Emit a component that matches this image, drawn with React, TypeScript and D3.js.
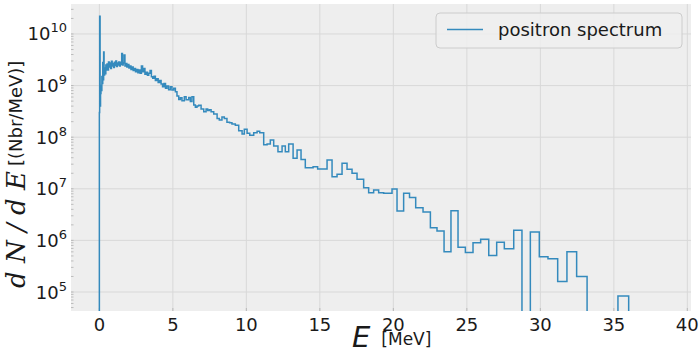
import { useEffect, useRef } from 'react';
import * as d3 from 'd3';

// lower bin edges in MeV (log-ish spaced bins)
const binLow = [
  0.0, 0.02, 0.05, 0.08, 0.11, 0.14, 0.17, 0.2, 0.23, 0.26, 0.29, 0.32, 0.36, 0.4, 0.44, 0.48,
  0.52, 0.57, 0.62, 0.67, 0.72, 0.77, 0.82, 0.87, 0.92, 0.97, 1.02, 1.07, 1.12, 1.17, 1.22, 1.27, 1.32, 1.37, 1.42, 1.47,
  1.52, 1.57, 1.62, 1.68, 1.74, 1.8, 1.87, 1.94, 2.01, 2.08, 2.15, 2.22, 2.3, 2.38, 2.46, 2.54, 2.62, 2.7, 2.78, 2.86, 2.94,
  3.02, 3.1, 3.18, 3.27, 3.36, 3.45, 3.54, 3.63, 3.72, 3.81, 3.9, 4.0, 4.1, 4.2, 4.3, 4.4, 4.5, 4.6, 4.71,
  4.83, 4.94, 5.06, 5.17, 5.28, 5.4, 5.51, 5.62, 5.78, 5.9, 6.08, 6.19, 6.3, 6.42, 6.53, 6.64, 6.76, 6.92, 7.1, 7.26, 7.37, 7.48, 7.6, 7.78, 8.01, 8.16, 8.34, 8.5, 8.68,
  8.86, 9.02, 9.25, 9.48, 9.71, 9.86, 10.05, 10.23, 10.5, 10.73, 10.91, 11.18, 11.41, 11.63, 11.86, 12.15, 12.43, 12.65, 12.88, 13.18, 13.45, 13.72, 14.01, 14.54, 14.85,
  15.49, 15.83, 16.17, 16.51, 16.85, 17.19, 17.53, 17.98, 18.32, 18.66, 19.0, 19.34, 19.91, 20.25,
  20.7, 21.1, 21.52, 22.02, 22.52, 22.97, 23.45, 23.92, 24.4, 24.9, 25.42, 25.94, 26.49, 27.03, 27.55, 28.19, 28.75, 29.32, 29.93, 30.52, 31.18, 31.81, 32.47, 33.18, 35.28,
];
const lastEdge = 36.01;

// dN/dE per bin (Nbr/MeV), 0 = empty bin
const dNdE = [
  3.0e8, 2.2e10, 4.0e8, 7.0e8, 1.0e9, 8.0e8, 1.5e9, 1.1e9, 2.8e9, 1.3e9, 4.5e9, 1.6e9, 2.2e9, 1.7e9, 2.5e9, 2.0e9,
  2.63e9, 2.0e9, 2.88e9, 2.29e9, 2.75e9, 2.14e9, 2.95e9, 2.4e9, 2.69e9, 2.24e9, 2.82e9, 2.45e9, 3.0e9, 2.34e9, 2.75e9, 2.51e9, 2.88e9, 2.4e9, 2.82e9, 2.57e9,
  4.2e9, 2.51e9, 2.75e9, 3.9e9, 2.4e9, 2.69e9, 2.29e9, 2.57e9, 2.19e9, 2.4e9, 2.04e9, 2.29e9, 1.95e9, 2.14e9, 1.86e9, 2.04e9, 1.78e9, 2.0e9, 1.74e9, 2.4e9, 1.86e9,
  2.14e9, 1.66e9, 1.82e9, 1.58e9, 1.74e9, 1.95e9, 1.48e9, 1.38e9, 1.51e9, 1.26e9, 1.35e9, 1.15e9, 1.26e9, 1.07e9, 9.5e8, 1.1e9, 8.9e8, 9.8e8, 8.3e8,
  9.5e8, 8.2e8, 8.85e8, 7.6e8, 6.3e8, 5.4e8, 5.8e8, 5.1e8, 6.1e8, 5.3e8, 5.9e8, 4.9e8, 6.1e8, 4.2e8, 3.8e8, 4.0e8, 4.15e8, 3.5e8, 3.1e8, 3.5e8, 3.3e8, 3.4e8, 3.1e8, 2.8e8, 2.3e8, 2.15e8, 2.45e8, 2.3e8, 1.95e8,
  1.9e8, 1.8e8, 1.7e8, 1.34e8, 1.15e8, 1.42e8, 1.19e8, 1.09e8, 1.22e8, 1.3e8, 1.22e8, 7.1e7, 7.4e7, 8.8e7, 6.75e7, 5.2e7, 6.75e7, 5.25e7, 7.4e7, 3.9e7, 5.65e7, 3.7e7, 2.56e7, 2.68e7, 2.42e7,
  3.6e7, 1.72e7, 1.91e7, 3.12e7, 2.39e7, 2.0e7, 1.53e7, 1.05e7, 8.4e6, 9.5e6, 8.4e6, 8.2e6, 9.9e6, 3.7e6,
  8.2e6, 6.8e6, 4.3e6, 3.55e6, 1.76e6, 1.52e6, 6.0e5, 3.77e6, 7.35e5, 5.8e5, 9.0e5, 1.05e6, 5.1e5, 9.2e5, 6.9e5, 1.57e6, 0, 1.46e6, 4.8e5, 4.4e5, 1.6e5, 6.0e5, 2.0e5, 0, 8.4e4,
];

const xTicks = [0, 5, 10, 15, 20, 25, 30, 35, 40];
const yTickExps = [5, 6, 7, 8, 9, 10];

const WIDTH = 700;
const HEIGHT = 354;
const FONT = '"DejaVu Sans", sans-serif';

export default function App() {
  const svgRef = useRef<SVGSVGElement>(null);

  useEffect(() => {
    if (!svgRef.current) return;
    const svg = d3.select(svgRef.current);
    svg.selectAll('*').remove();

    const margin = { top: 4, left: 71, right: 9, bottom: 43 };
    const innerWidth = WIDTH - margin.left - margin.right;
    const innerHeight = HEIGHT - margin.top - margin.bottom;

    const x = d3.scaleLinear().domain([-1.93, 40.25]).range([0, innerWidth]);
    const y = d3
      .scaleLog()
      .domain([Math.pow(10, 4.632), Math.pow(10, 10.581)])
      .range([innerHeight, 0]);

    const g = svg
      .append('g')
      .attr('transform', `translate(${margin.left},${margin.top})`);

    g.append('rect')
      .attr('width', innerWidth)
      .attr('height', innerHeight)
      .attr('fill', '#eeeeee');

    // grid
    g.selectAll('.vgrid')
      .data(xTicks)
      .join('line')
      .attr('x1', (d) => x(d))
      .attr('x2', (d) => x(d))
      .attr('y1', 0)
      .attr('y2', innerHeight)
      .attr('stroke', '#d8d8d8')
      .attr('stroke-width', 1);

    g.selectAll('.hgrid')
      .data(yTickExps)
      .join('line')
      .attr('x1', 0)
      .attr('x2', innerWidth)
      .attr('y1', (d) => y(Math.pow(10, d)))
      .attr('y2', (d) => y(Math.pow(10, d)))
      .attr('stroke', '#d8d8d8')
      .attr('stroke-width', 1);

    // minor ticks on the log axis (inside)
    const minor: number[] = [];
    for (let e = 4; e <= 10; e++) {
      for (let k = 1; k <= 9; k++) {
        const v = k * Math.pow(10, e);
        if (v >= y.domain()[0] && v <= y.domain()[1]) minor.push(v);
      }
    }
    g.selectAll('.ymin')
      .data(minor)
      .join('line')
      .attr('x1', 0)
      .attr('x2', 2.5)
      .attr('y1', (d) => y(d))
      .attr('y2', (d) => y(d))
      .attr('stroke', '#b0b0b0')
      .attr('stroke-width', 0.8);

    g.selectAll('.xtk')
      .data(xTicks)
      .join('line')
      .attr('x1', (d) => x(d))
      .attr('x2', (d) => x(d))
      .attr('y1', innerHeight)
      .attr('y2', innerHeight - 3)
      .attr('stroke', '#b0b0b0')
      .attr('stroke-width', 0.8);

    // step outline
    const clipId = 'plot-clip';
    svg
      .append('defs')
      .append('clipPath')
      .attr('id', clipId)
      .append('rect')
      .attr('width', innerWidth)
      .attr('height', innerHeight);

    const below = innerHeight + 10;
    const yOf = (v: number) => (v > 0 ? y(v) : below);
    const n = Math.min(binLow.length, dNdE.length);
    const pts: [number, number][] = [[x(binLow[0]), below]];
    for (let i = 0; i < n; i++) {
      const x0 = x(binLow[i]);
      const x1 = x(i + 1 < n ? binLow[i + 1] : lastEdge);
      pts.push([x0, yOf(dNdE[i])], [x1, yOf(dNdE[i])]);
    }
    pts.push([x(lastEdge), below]);

    g.append('path')
      .attr('clip-path', `url(#${clipId})`)
      .attr('d', d3.line()(pts) ?? '')
      .attr('fill', 'none')
      .attr('stroke', '#348ABD')
      .attr('stroke-width', 1.5)
      .attr('stroke-linejoin', 'miter');

    // tick labels
    g.selectAll('.xlab')
      .data(xTicks)
      .join('text')
      .attr('x', (d) => x(d))
      .attr('y', innerHeight + 20)
      .attr('text-anchor', 'middle')
      .style('font-family', FONT)
      .style('font-size', '18px')
      .attr('fill', '#1a1a1a')
      .text((d) => String(d));

    const yl = g
      .selectAll('.ylab')
      .data(yTickExps)
      .join('text')
      .attr('x', -4)
      .attr('y', (d) => y(Math.pow(10, d)) + 6.5)
      .attr('text-anchor', 'end')
      .style('font-family', FONT)
      .style('font-size', '18px')
      .attr('fill', '#1a1a1a');
    yl.append('tspan').text('10');
    yl.append('tspan')
      .attr('dy', -8)
      .style('font-size', '13px')
      .text((d) => String(d));

    // axis labels
    const xl = svg
      .append('text')
      .attr('x', 352)
      .attr('y', 347)
      .attr('fill', '#1a1a1a');
    xl.append('tspan')
      .style('font-family', FONT)
      .style('font-style', 'italic')
      .style('font-size', '29px')
      .text('E');
    xl.append('tspan')
      .attr('dx', 11)
      .attr('dy', -2)
      .style('font-family', FONT)
      .style('font-size', '17px')
      .text('[MeV]');

    svg
      .append('text')
      .attr('transform', 'translate(25,288) rotate(-90)')
      .attr('textLength', 117)
      .attr('lengthAdjust', 'spacing')
      .style('font-family', '"DejaVu Serif", serif')
      .style('font-style', 'italic')
      .style('font-size', '26px')
      .attr('fill', '#1a1a1a')
      .text('dN/dE');

    svg
      .append('text')
      .attr('transform', 'translate(22,166) rotate(-90)')
      .style('font-family', FONT)
      .style('font-size', '18px')
      .attr('fill', '#1a1a1a')
      .text('[(Nbr/MeV)]');

    // legend
    const lg = svg.append('g');
    lg.append('rect')
      .attr('x', 436)
      .attr('y', 13)
      .attr('width', 246)
      .attr('height', 35)
      .attr('rx', 4)
      .attr('fill', '#eeeeee')
      .attr('fill-opacity', 0.85)
      .attr('stroke', '#cccccc')
      .attr('stroke-width', 1);
    lg.append('line')
      .attr('x1', 447)
      .attr('x2', 483)
      .attr('y1', 29.5)
      .attr('y2', 29.5)
      .attr('stroke', '#348ABD')
      .attr('stroke-width', 1.5);
    lg.append('text')
      .attr('x', 498)
      .attr('y', 36)
      .style('font-family', FONT)
      .style('font-size', '18px')
      .attr('fill', '#1a1a1a')
      .text('positron spectrum');
  }, []);

  return (
    <svg
      ref={svgRef}
      width={WIDTH}
      height={HEIGHT}
      style={{ position: 'absolute', left: 0, top: 0, background: '#ffffff' }}
    />
  );
}
